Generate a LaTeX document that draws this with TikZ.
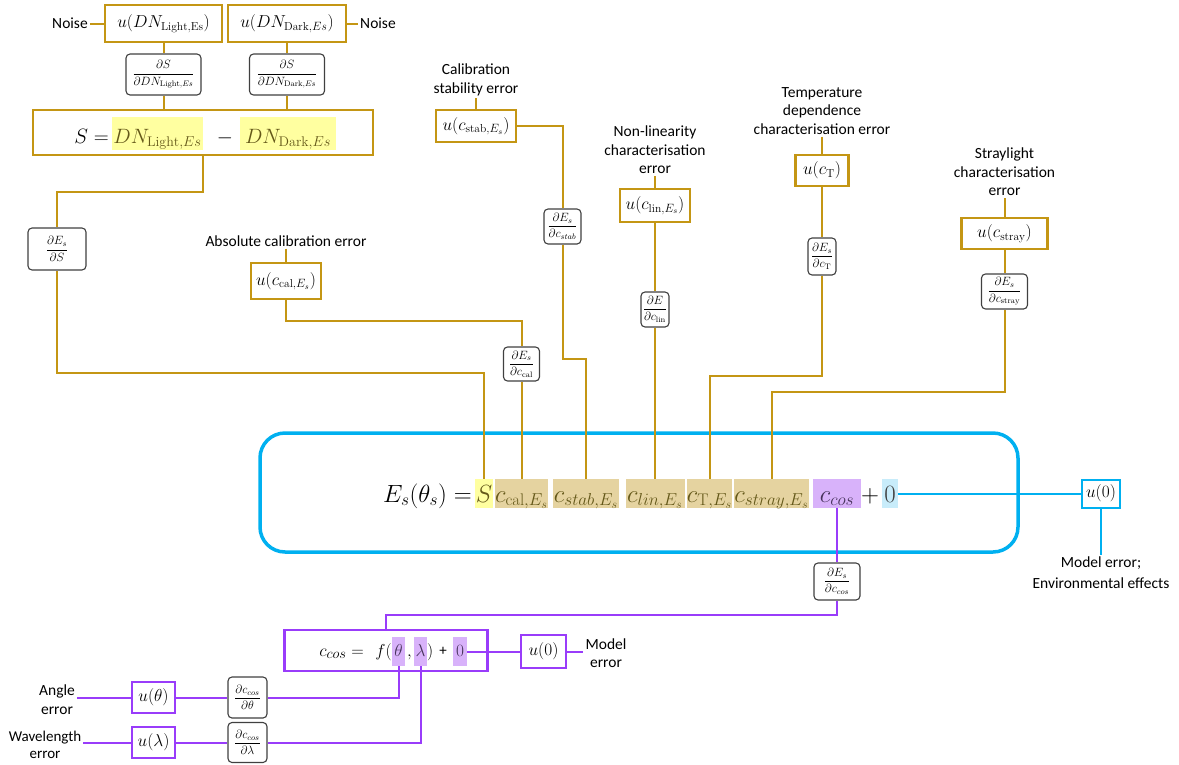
\documentclass[tikz,border=0pt]{standalone}
\usepackage{fontspec}
\usepackage{amsmath}
\newfontfamily\lab{Carlito}
\definecolor{gold}{RGB}{196,150,20}
\definecolor{tan}{RGB}{229,211,160}
\definecolor{yel}{RGB}{255,255,160}
\definecolor{olive}{RGB}{100,88,25}
\definecolor{pur}{RGB}{153,60,250}
\definecolor{lpur}{RGB}{216,178,250}
\definecolor{dpur}{RGB}{70,50,90}
\definecolor{sky}{RGB}{0,176,240}
\definecolor{lsky}{RGB}{200,236,250}
\definecolor{dgray}{RGB}{64,64,64}
\begin{document}
\begin{tikzpicture}[x=1pt,y=-1pt,
  lbl/.style={font=\lab\fontsize{15.5}{18.5}\selectfont, align=center, inner sep=2pt},
  sz/.style 2 args={minimum width=#1pt, minimum height=#2pt},
  ubox/.style={draw=gold, line width=2.2pt, fill=white, inner sep=0pt, font=\fontsize{16.5}{18}\selectfont},
  dbox/.style={draw=dgray, line width=1.1pt, rounded corners=4pt, fill=white, inner sep=0pt, font=\fontsize{12}{14}\selectfont},
  hl/.style={inner xsep=0pt, inner ysep=1pt, text height=22pt, text depth=5pt, anchor=base, font=\fontsize{24}{28}\selectfont},
  hs/.style={inner xsep=0pt, inner ysep=1pt, text height=25pt, text depth=6pt, anchor=base, font=\fontsize{20}{24}\selectfont, fill=yel, text=olive},
  hc/.style={inner xsep=0pt, inner ysep=1pt, text height=18pt, text depth=9pt, anchor=base, font=\fontsize{19}{22}\selectfont, fill=lpur, text=dpur},
  gl/.style={draw=gold, line width=2pt},
  pl/.style={draw=pur, line width=2pt},
  bl/.style={draw=sky, line width=2pt}]
\useasboundingbox (0,0) rectangle (1179,764);

% ---------- signal S ----------
\node[lbl] (nL) at (70,23.5) {Noise};
\node[ubox, sz={117}{37}] (uL) at (163.5,23.5) {$u(DN_{\mathrm{Light,Es}})$};
\node[ubox, sz={118}{37}] (uD) at (287,23.5) {$u(DN_{\mathrm{Dark},Es})$};
\node[lbl] (nR) at (378,23.5) {Noise};
\node[dbox, sz={75}{41}] (dL) at (163.5,74.5) {$\dfrac{\partial S}{\partial DN_{\mathrm{Light},Es}}$};
\node[dbox, sz={75}{41}] (dD) at (287,74.5) {$\dfrac{\partial S}{\partial DN_{\mathrm{Dark},Es}}$};
\node[draw=gold, line width=2.2pt, sz={340}{45}] (Sbox) at (203,132.5) {};
\node[anchor=base east, inner sep=0pt, font=\fontsize{20}{24}\selectfont] (Seq) at (109,143) {$S =$};
\node[hs, minimum width=91pt] (hL) at (157.5,143) {$DN_{\mathrm{Light},Es}$};
\node[anchor=base, inner sep=0pt, font=\fontsize{20}{24}\selectfont] (minus) at (225,143) {$-$};
\node[hs, minimum width=96pt] (hD) at (288,143) {$DN_{\mathrm{Dark},Es}$};
\node[dbox, sz={58}{42}] (dS) at (57,249) {$\dfrac{\partial E_s}{\partial S}$};

% ---------- calibration factors ----------
\node[lbl] (tcal) at (286,241) {Absolute calibration error};
\node[ubox, sz={70}{36}] (ucal) at (286,281) {$u(c_{\mathrm{cal},E_s})$};
\node[dbox, sz={36}{34}] (dcal) at (521.5,364) {$\dfrac{\partial E_s}{\partial c_{\mathrm{cal}}}$};

\node[lbl] (tstab) at (476,80) {Calibration\\stability error};
\node[ubox, sz={80}{32}] (ustab) at (476,126) {$u(c_{\mathrm{stab},E_s})$};
\node[dbox, sz={37}{35}] (dstab) at (562.5,226.5) {$\dfrac{\partial E_s}{\partial c_{stab}}$};

\node[lbl] (tlin) at (655,150) {Non-linearity\\characterisation\\error};
\node[ubox, sz={70}{33}] (ulin) at (655,205.5) {$u(c_{\mathrm{lin},E_s})$};
\node[dbox, sz={28}{35}] (dlin) at (655,309.5) {$\dfrac{\partial E}{\partial c_{\mathrm{lin}}}$};

\node[lbl] (tT) at (822,111) {Temperature\\dependence\\characterisation error};
\node[ubox, sz={53}{31}] (uT) at (822,170.5) {$u(c_{\mathrm{T}})$};
\node[dbox, sz={28}{37}] (dT) at (822,256.5) {$\dfrac{\partial E_s}{\partial c_{\mathrm{T}}}$};

\node[lbl] (tstray) at (1004.5,172) {Straylight\\characterisation\\error};
\node[ubox, sz={86}{31}] (ustray) at (1004.5,233.5) {$u(c_{\mathrm{stray}})$};
\node[dbox, sz={46}{35}] (dstray) at (1004.5,291.5) {$\dfrac{\partial E_s}{\partial c_{\mathrm{stray}}}$};

% ---------- measurement equation ----------
\node[draw=sky, line width=3.5pt, rounded corners=25pt, sz={758}{119}] (eqbox) at (639,492.5) {};
\node[anchor=base east, inner sep=0pt, font=\fontsize{24}{28}\selectfont] (Es) at (472,502) {$E_s(\theta_s) =$};
\node[hl, fill=yel, text=olive, minimum width=18pt] (fS) at (484,502) {$S$};
\node[hl, fill=tan, text=olive, minimum width=53pt] (fcal) at (521.5,502) {$c_{\mathrm{cal},E_s}$};
\node[hl, fill=tan, text=olive, minimum width=66pt] (fstab) at (586,502) {$c_{stab,E_s}$};
\node[hl, fill=tan, text=olive, minimum width=59pt] (flin) at (655,502) {$c_{lin,E_s}$};
\node[hl, fill=tan, text=olive, minimum width=44pt] (fT) at (709.5,502) {$c_{\mathrm{T},E_s}$};
\node[hl, fill=tan, text=olive, minimum width=73pt] (fstray) at (771.5,502) {$c_{stray,E_s}$};
\node[hl, fill=lpur, text=dpur, minimum width=48pt] (fcos) at (837,502) {$c_{cos}$};
\node[hl] (plus) at (870,502) {$+$};
\node[hl, fill=lsky, text=dgray, minimum width=16pt] (zero) at (890,502) {$0$};
\node[draw=sky, line width=2pt, fill=white, inner sep=0pt, sz={38}{28}, font=\fontsize{16}{18}\selectfont] (u0) at (1101,493.5) {$u(0)$};
\node[lbl, font=\lab\fontsize{15.5}{21}\selectfont] (tmodel) at (1101,573) {Model error;\\Environmental effects};

% ---------- cosine response ----------
\node[dbox, sz={46}{37}] (dcos) at (837,581.5) {$\dfrac{\partial E_s}{\partial c_{cos}}$};
\node[draw=pur, line width=2.2pt, sz={203}{41}] (ccbox) at (386,650.5) {};
\node[anchor=base east, inner sep=0pt, font=\fontsize{19}{22}\selectfont] (ceq) at (364,656) {$c_{cos} =$};
\node[anchor=base east, inner sep=0pt, font=\fontsize{19}{22}\selectfont] (fpar) at (392,656) {$f($};
\node[hc, minimum width=13pt] (fth) at (398.5,656) {$\theta$};
\node[anchor=base, inner sep=0pt, font=\fontsize{19}{22}\selectfont] (comma) at (409.5,656) {$,$};
\node[hc, minimum width=13pt] (flam) at (420.5,656) {$\lambda$};
\node[anchor=base west, inner sep=0pt, font=\fontsize{19}{22}\selectfont] (rpar) at (427,656) {$)$};
\node[anchor=base, inner sep=0pt, font=\lab\fontsize{15}{18}\selectfont] (cplus) at (443,655) {+};
\node[hc, minimum width=14pt] (fz) at (460,656) {$0$};
\node[draw=pur, line width=2pt, fill=white, inner sep=0pt, sz={45}{33}, font=\fontsize{16}{18}\selectfont] (u0b) at (543.5,651.5) {$u(0)$};
\node[lbl] (tmodel2) at (606,653) {Model\\error};

\node[lbl, font=\lab\fontsize{15.5}{19}\selectfont] (tangle) at (57,700) {Angle\\error};
\node[draw=pur, line width=2pt, fill=white, inner sep=0pt, sz={43}{31}, font=\fontsize{16}{18}\selectfont] (uth) at (153.5,697.5) {$u(\theta)$};
\node[dbox, sz={39}{41}] (dth) at (247.5,697.5) {$\dfrac{\partial c_{cos}}{\partial \theta}$};
\node[lbl, font=\lab\fontsize{15}{16.5}\selectfont] (twave) at (45,745) {Wavelength\\error};
\node[draw=pur, line width=2pt, fill=white, inner sep=0pt, sz={43}{31}, font=\fontsize{16}{18}\selectfont] (ulam) at (153.5,742.5) {$u(\lambda)$};
\node[dbox, sz={39}{40}] (dlam) at (247.5,742.5) {$\dfrac{\partial c_{cos}}{\partial \lambda}$};

% ---------- bend points ----------
\coordinate (kS1) at (57,192);
\coordinate (kS2) at (484,373);
\coordinate (kc) at (521.5,321);
\coordinate (ks) at (586,359);
\coordinate (kT) at (709.5,376);
\coordinate (kst) at (771.5,392);
\coordinate (kcos) at (386,615);

% ---------- gold connectors ----------
\draw[gl] (nL) -- (uL);
\draw[gl] (uD) -- (nR);
\draw[gl] (uL) -- (dL);
\draw[gl] (uD) -- (dD);
\draw[gl] (dL.south) -- (dL.south |- Sbox.north);
\draw[gl] (dD.south) -- (dD.south |- Sbox.north);
\draw[gl] (Sbox.south) |- (kS1) -- (dS.north);
\draw[gl] (dS.south) |- (kS2) -- (fS.north);
\draw[gl] (tcal) -- (ucal);
\draw[gl] (ucal.south) |- (kc) -- (dcal.north);
\draw[gl] (dcal) -- (fcal);
\draw[gl] (tstab) -- (ustab);
\draw[gl] (ustab.east) -| (dstab.north);
\draw[gl] (dstab.south) |- (ks) -- (fstab.north);
\draw[gl] (tlin) -- (ulin);
\draw[gl] (ulin) -- (dlin);
\draw[gl] (dlin) -- (flin);
\draw[gl] (tT) -- (uT);
\draw[gl] (uT) -- (dT);
\draw[gl] (dT.south) |- (kT) -- (fT.north);
\draw[gl] (tstray) -- (ustray);
\draw[gl] (ustray) -- (dstray);
\draw[gl] (dstray.south) |- (kst) -- (fstray.north);

% ---------- blue connectors ----------
\draw[bl] (zero) -- (u0);
\draw[bl] (u0) -- (tmodel);

% ---------- purple connectors ----------
\draw[pl] (fcos) -- (dcos);
\draw[pl] (dcos.south) |- (kcos) -- (ccbox.north);
\draw[pl] (fz.east) -- (u0b.west);
\draw[pl] (u0b) -- (tmodel2.west |- u0b.east);
\draw[pl] (tangle.east |- uth.west) -- (uth.west);
\draw[pl] (uth) -- (dth);
\draw[pl] (dth.east) -| (fth.south);
\draw[pl] (twave.east |- ulam.west) -- (ulam.west);
\draw[pl] (ulam) -- (dlam);
\draw[pl] (dlam.east) -| (flam.south);
\end{tikzpicture}
\end{document}
